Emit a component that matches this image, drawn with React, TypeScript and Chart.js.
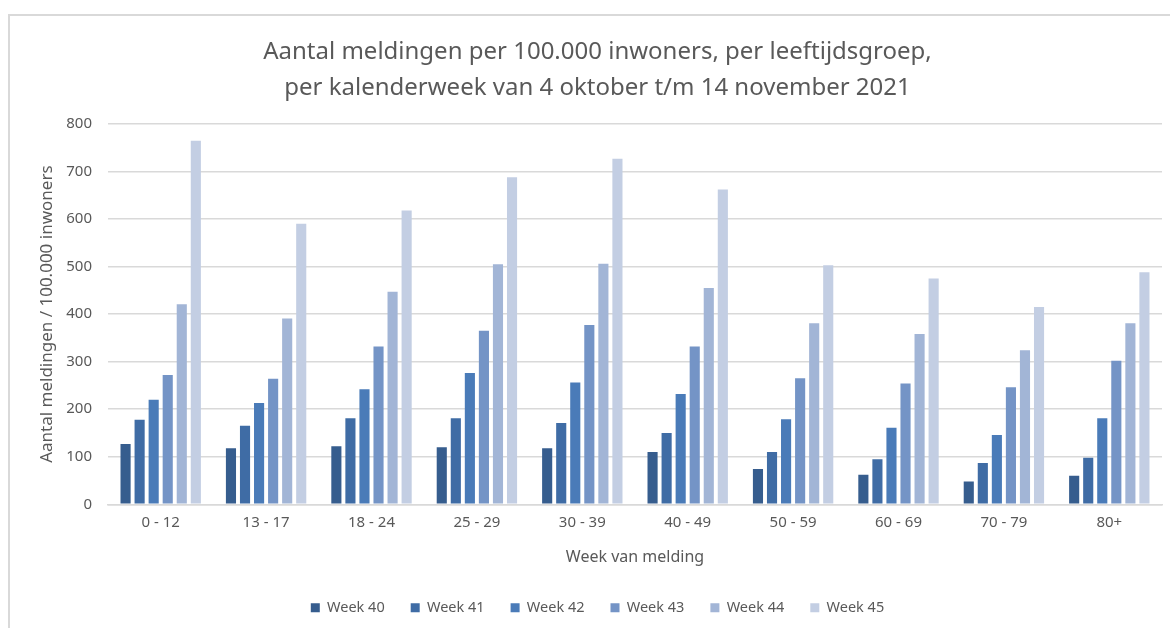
import React, { useEffect, useRef } from "react";
import { Chart, registerables } from "chart.js";

Chart.register(...registerables);

const categories = ["0 - 12", "13 - 17", "18 - 24", "25 - 29", "30 - 39", "40 - 49", "50 - 59", "60 - 69", "70 - 79", "80+"];
const seriesLabels = ["Week 40", "Week 41", "Week 42", "Week 43", "Week 44", "Week 45"];
const week40 = [127, 118, 122, 120, 118, 110, 74, 62, 48, 60];
const week41 = [178, 165, 181, 181, 171, 150, 110, 95, 87, 98];
const week42 = [220, 213, 242, 276, 256, 232, 179, 161, 146, 181];
const week43 = [272, 264, 332, 365, 377, 332, 265, 254, 246, 302];
const week44 = [421, 391, 447, 505, 506, 455, 381, 358, 324, 381];
const week45 = [765, 590, 618, 688, 727, 662, 503, 475, 415, 488];
const seriesValues = [week40, week41, week42, week43, week44, week45];
const seriesColors = ["#365d8e", "#3f6ca5", "#4a7bb8", "#7494c6", "#a2b5d6", "#c3cee3"];
const titleLines = [
  "Aantal meldingen per 100.000 inwoners, per leeftijdsgroep,",
  "per kalenderweek van 4 oktober t/m 14 november 2021",
];
const yAxisTitle = "Aantal meldingen / 100.000 inwoners";
const xAxisTitle = "Week van melding";

const FONT = "'Noto Sans', 'Open Sans', sans-serif";
const TEXT = "#595959";
const CANVAS_H = 625;

export default function App() {
  const ref = useRef<HTMLCanvasElement | null>(null);
  useEffect(() => {
    if (!ref.current) return;
    const chart = new Chart(ref.current, {
      type: "bar",
      data: {
        labels: categories,
        datasets: seriesLabels.map((l, i) => ({
          label: l,
          data: seriesValues[i],
          backgroundColor: seriesColors[i],
          borderWidth: 0,
          categoryPercentage: 0.8,
          barPercentage: 0.72,
        })),
      },
      options: {
        animation: false,
        responsive: false,
        maintainAspectRatio: false,
        devicePixelRatio: 1,
        layout: { padding: { left: 33, right: 8, top: 34, bottom: 0 } },
        plugins: {
          title: {
            display: true,
            text: titleLines,
            color: TEXT,
            font: { family: FONT, size: 24, weight: "normal", lineHeight: 1.5 },
            padding: { top: 0, bottom: 18 },
          },
          legend: {
            position: "bottom",
            labels: {
              color: TEXT,
              font: { family: FONT, size: 14.5 },
              boxWidth: 9,
              boxHeight: 9,
              padding: 26,
            },
          },
          tooltip: { enabled: false },
        },
        scales: {
          x: {
            grid: { display: false },
            border: { display: true, color: "#d9d9d9", width: 1.5 },
            ticks: { color: TEXT, font: { family: FONT, size: 15 }, padding: 1 },
            title: {
              display: true,
              text: xAxisTitle,
              color: TEXT,
              font: { family: FONT, size: 16 },
              padding: { top: 16, bottom: 7 },
            },
          },
          y: {
            min: 0,
            max: 800,
            afterFit: (s: any) => {
              s.width = 75;
            },
            ticks: { stepSize: 100, color: TEXT, font: { family: FONT, size: 15 }, padding: 16 },
            grid: { color: "#d9d9d9", lineWidth: 1.5, drawTicks: false },
            border: { display: false },
            title: {
              display: true,
              text: yAxisTitle,
              color: TEXT,
              font: { family: FONT, size: 17 },
              padding: { top: 4, bottom: 4 },
            },
          },
        },
      },
    });
    return () => chart.destroy();
  }, []);
  return (
    <div style={{ position: "fixed", left: 0, top: 0, width: 1170, height: 628, background: "#fff", overflow: "hidden" }}>
      <div
        style={{
          position: "absolute",
          left: 8,
          top: 14,
          width: 1200,
          height: 700,
          borderLeft: "2px solid #d9d9d9",
          borderTop: "2px solid #d9d9d9",
        }}
      />
      <canvas ref={ref} width={1170} height={CANVAS_H} style={{ position: "absolute", left: 0, top: 0, width: 1170, height: CANVAS_H }} />
    </div>
  );
}
